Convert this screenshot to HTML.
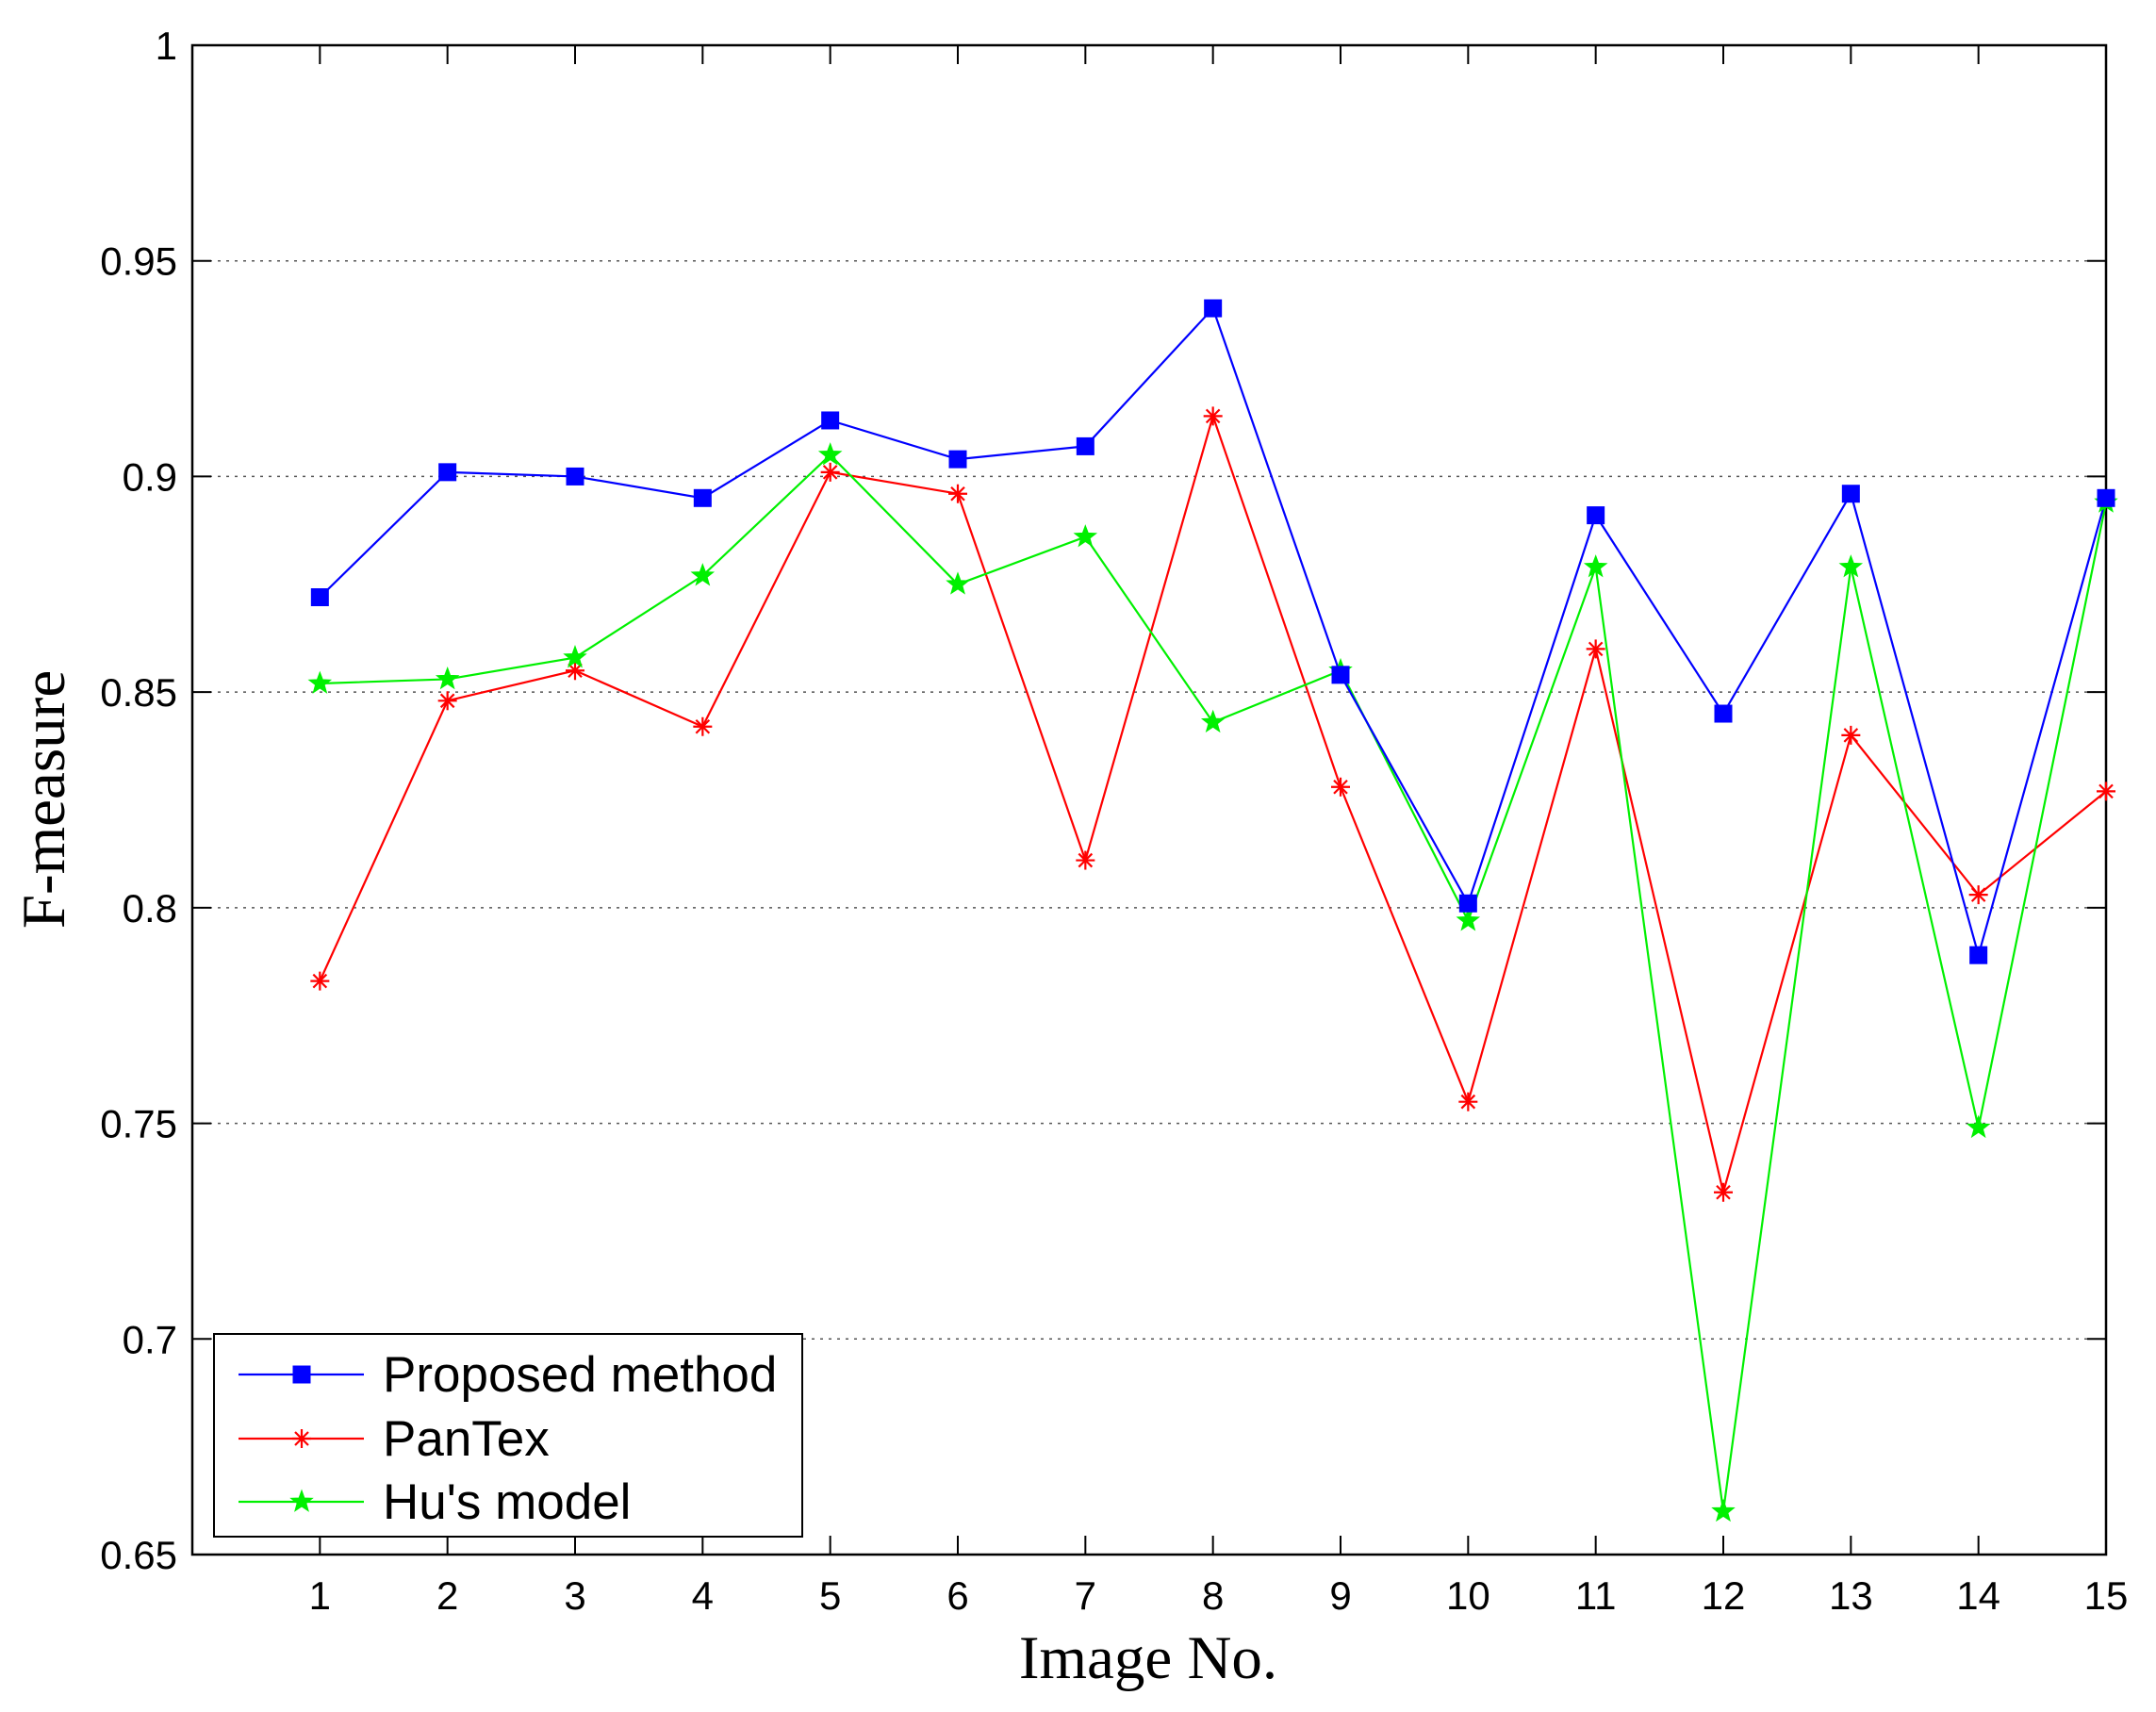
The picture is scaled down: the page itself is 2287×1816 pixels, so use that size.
<!DOCTYPE html>
<html><head><meta charset="utf-8"><style>html,body{margin:0;padding:0;background:#fff}</style></head>
<body>
<svg id="c" width="2287" height="1811" xmlns="http://www.w3.org/2000/svg" font-family="Liberation Sans, Arial, sans-serif"></svg>
<script>
const L=204,R=2234,T=48,B=1649;
const X=i=>L+(R-L)*i/15, Y=v=>T+(1-v)/0.35*(B-T);
const P=[0.872,0.901,0.900,0.895,0.913,0.904,0.907,0.939,0.854,0.801,0.891,0.845,0.896,0.789,0.895];
const Q=[0.783,0.848,0.855,0.842,0.901,0.896,0.811,0.914,0.828,0.755,0.860,0.734,0.840,0.803,0.827];
const H=[0.852,0.853,0.858,0.877,0.905,0.875,0.886,0.843,0.855,0.797,0.879,0.660,0.879,0.749,0.894];
let s='<rect width="2287" height="1811" fill="#fff"/>';
for(let k=1;k<7;k++){const v=0.65+0.05*k,y=Y(v);s+=`<line x1="${L}" x2="${R}" y1="${y}" y2="${y}" stroke="#555" stroke-width="1.5" stroke-dasharray="3,6"/>`;}
const yl=['0.65','0.7','0.75','0.8','0.85','0.9','0.95','1'];
yl.forEach((t,k)=>{const y=Y(0.65+0.05*k);s+=`<line x1="${L}" x2="${L+20}" y1="${y}" y2="${y}" stroke="#000" stroke-width="2"/><line x1="${R}" x2="${R-20}" y1="${y}" y2="${y}" stroke="#000" stroke-width="2"/><text x="${L-16}" y="${y+15}" font-size="42" text-anchor="end">${t}</text>`;});
for(let i=1;i<=15;i++){const x=X(i);s+=`<line x1="${x}" x2="${x}" y1="${B}" y2="${B-20}" stroke="#000" stroke-width="2"/><line x1="${x}" x2="${x}" y1="${T}" y2="${T+20}" stroke="#000" stroke-width="2"/><text x="${x}" y="${B+58}" font-size="42" text-anchor="middle">${i}</text>`;}
s+=`<rect x="${L}" y="${T}" width="${R-L}" height="${B-T}" fill="none" stroke="#000" stroke-width="2.5"/>`;
function line(d,c){return `<polyline fill="none" stroke="${c}" stroke-width="2.2" points="${d.map((v,i)=>X(i+1)+','+Y(v)).join(' ')}"/>`;}
function sq(x,y,c){return `<rect x="${x-9}" y="${y-9}" width="18" height="18" fill="${c}" stroke="${c}"/>`;}
function ast(x,y,c){let r=10;return `<g stroke="${c}" stroke-width="2.2"><line x1="${x-r}" x2="${x+r}" y1="${y}" y2="${y}"/><line x1="${x}" x2="${x}" y1="${y-r}" y2="${y+r}"/><line x1="${x-7}" x2="${x+7}" y1="${y-7}" y2="${y+7}"/><line x1="${x-7}" x2="${x+7}" y1="${y+7}" y2="${y-7}"/></g>`;}
function star(x,y,c){let p=[];for(let k=0;k<10;k++){const r=k%2?5:12,a=-Math.PI/2+k*Math.PI/5;p.push((x+r*Math.cos(a)).toFixed(1)+','+(y+r*Math.sin(a)).toFixed(1));}return `<polygon points="${p.join(' ')}" fill="${c}" stroke="${c}"/>`;}
const G='#00f000';
s+=line(Q,'#ff0000')+line(H,G)+line(P,'#0000ff');
Q.forEach((v,i)=>s+=ast(X(i+1),Y(v),'#ff0000'));
H.forEach((v,i)=>s+=star(X(i+1),Y(v),G));
P.forEach((v,i)=>s+=sq(X(i+1),Y(v),'#0000ff'));
s+=`<rect x="227" y="1415" width="624" height="215" fill="#fff" stroke="#000" stroke-width="2"/>`;
const lg=[['Proposed method','#0000ff',sq,1458],['PanTex','#ff0000',ast,1526],['Hu\'s model',G,star,1593]];
lg.forEach(([t,c,f,y])=>{s+=`<line x1="253" x2="386" y1="${y}" y2="${y}" stroke="${c}" stroke-width="2.2"/>`+f(320,y,c)+`<text x="406" y="${y+18}" font-size="53">${t}</text>`;});
s+=`<text x="1218" y="1780" font-size="65" text-anchor="middle" font-family="Liberation Serif, serif">Image No.</text>`;
s+=`<text transform="translate(68,848) rotate(-90)" font-size="65" text-anchor="middle" font-family="Liberation Serif, serif">F-measure</text>`;
document.getElementById('c').innerHTML=s;
</script>
</body></html>
